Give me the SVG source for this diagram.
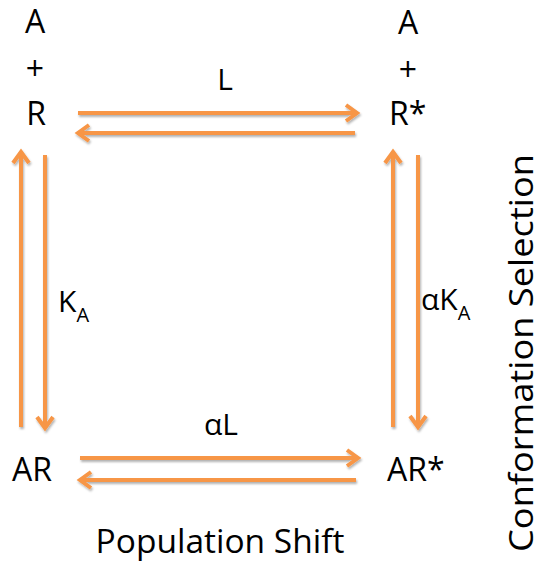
<svg xmlns="http://www.w3.org/2000/svg" width="543" height="563" viewBox="0 0 543 563">
  <defs>
    <style>
      .lbl { font-family: "Open Sans", "Liberation Sans", sans-serif; fill: #000; }
      .node { font-size: 32px; }
      .rate { font-size: 30px; }
      .sub { font-size: 20px; }
      .conn { stroke: #F79646; stroke-width: 4; fill: none; }
    </style>
    <marker id="head" markerUnits="userSpaceOnUse" markerWidth="30" markerHeight="30" viewBox="-15 -15 30 30" refX="0" refY="0" orient="auto">
      <path d="M-11,-8 L0,0 L-11,8" fill="none" stroke="#F79646" stroke-width="4"/>
    </marker>
    <filter id="shadow" x="-10%" y="-10%" width="120%" height="130%">
      <feDropShadow dx="1" dy="2" stdDeviation="1.2" flood-color="#000" flood-opacity="0.3"/>
    </filter>
  </defs>
  <rect width="543" height="563" fill="#fff"/>

  <g id="connectors" filter="url(#shadow)">
    <line class="conn" x1="78" y1="113" x2="357" y2="113" marker-end="url(#head)"/>
    <line class="conn" x1="355" y1="133" x2="78" y2="133" marker-end="url(#head)"/>
    <line class="conn" x1="21" y1="427" x2="21" y2="152" marker-end="url(#head)"/>
    <line class="conn" x1="45" y1="155" x2="45" y2="428" marker-end="url(#head)"/>
    <line class="conn" x1="393" y1="427" x2="393" y2="152" marker-end="url(#head)"/>
    <line class="conn" x1="418" y1="155" x2="418" y2="427" marker-end="url(#head)"/>
    <line class="conn" x1="80" y1="458" x2="358" y2="458" marker-end="url(#head)"/>
    <line class="conn" x1="356" y1="480" x2="80" y2="480" marker-end="url(#head)"/>
  </g>

  <g id="node-A-R">
    <text class="lbl node" x="35" y="33" text-anchor="middle">A</text>
    <text class="lbl node" x="35" y="80" text-anchor="middle">+</text>
    <text class="lbl node" x="36" y="125" text-anchor="middle">R</text>
  </g>
  <g id="node-A-Rstar">
    <text class="lbl node" x="408" y="34" text-anchor="middle">A</text>
    <text class="lbl node" x="408" y="81" text-anchor="middle">+</text>
    <text class="lbl node" x="389" y="125">R*</text>
  </g>
  <g id="node-AR">
    <text class="lbl node" x="12" y="481">AR</text>
  </g>
  <g id="node-ARstar">
    <text class="lbl node" x="387" y="481">AR*</text>
  </g>

  <g id="labels">
    <text class="lbl rate" x="225" y="90" text-anchor="middle">L</text>
    <text class="lbl rate" x="58" y="312">K<tspan class="sub" dy="10">A</tspan></text>
    <text class="lbl rate" x="421" y="310">αK<tspan class="sub" dy="10">A</tspan></text>
    <text class="lbl rate" x="221" y="435" text-anchor="middle">αL</text>
    <text class="lbl" font-size="33.5" x="220" y="553" text-anchor="middle">Population Shift</text>
    <text class="lbl" font-size="33" transform="translate(533,353) rotate(-90)" text-anchor="middle" textLength="398" lengthAdjust="spacingAndGlyphs">Conformation Selection</text>
  </g>
</svg>
